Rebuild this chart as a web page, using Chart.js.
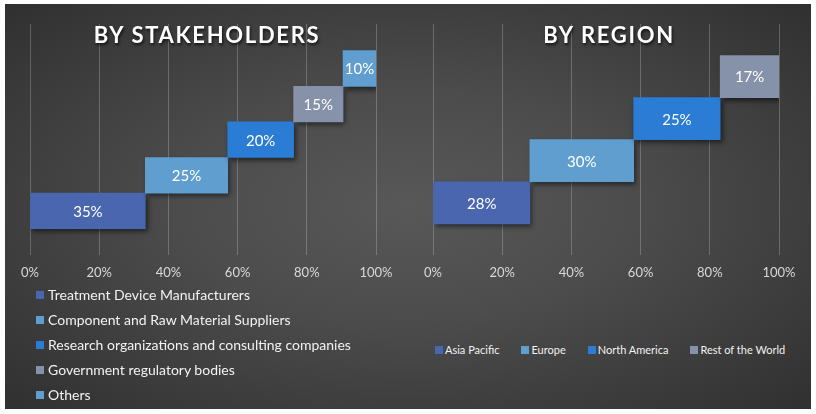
<!DOCTYPE html>
<html>
<head>
<meta charset="utf-8">
<script src="https://cdn.jsdelivr.net/npm/chart.js@4.4.1/dist/chart.umd.min.js"></script>
<style>
    html, body { margin: 0; padding: 0; background: #fff; }
    body { width: 816px; height: 414px; position: relative; overflow: hidden; font-family: Lato, "Noto Sans", sans-serif; }
    #panel {
        position: absolute; left: 5px; top: 4px; width: 806px; height: 405px;
        background: radial-gradient(ellipse farthest-corner at 50% 50%, #585858 0%, #4c4c4c 40%, #303030 100%);
    }
    .box { position: absolute; top: 0; width: 408px; height: 300px; }
    .title {
        position: absolute; top: 21px; width: 408px; text-align: center;
        color: #fff; font-weight: 700; font-size: 22px; letter-spacing: 1.7px;
        text-shadow: 1px 2px 3px rgba(0, 0, 0, 0.7);
    }
    .legend { position: absolute; color: #f2f2f2; }
    .legend .item { display: flex; align-items: center; white-space: nowrap; }
    .legend .sw { display: inline-block; width: 8px; height: 8px; margin-right: 4px; }
    #legendLeft { left: 36px; top: 282px; font-size: 14px; }
    #legendLeft .item { height: 25px; }
    #legendRight { left: 435px; top: 343px; font-size: 11px; display: flex; gap: 22px; }
    #legendRight .sw { margin-right: 2px; }
</style>
</head>
<body>
<div id="panel"></div>
<div class="box" style="left:0"><canvas id="stakeholderChart"></canvas></div>
<div class="box" style="left:408px"><canvas id="regionChart"></canvas></div>
<div class="title" style="left:3px">BY STAKEHOLDERS</div>
<div class="title" style="left:405px">BY REGION</div>
<div class="legend" id="legendLeft"></div>
<div class="legend" id="legendRight"></div>

<script>
// Ïù¥Ìï¥Í¥ÄÍ≥ÑÏûêÎ≥Ñ
const stakeholderLabels = [
    'Treatment Device Manufacturers',
    'Component and Raw Material Suppliers',
    'Research organizations and consulting companies',
    'Government regulatory bodies',
    'Others'
];
const stakeholderShares = [35, 25, 20, 15, 10];
const stakeholderColors = ['#4a66ae', '#5f9ecf', '#2b7cd4', '#8691aa', '#5f9ecf'];

// ÏßÄÏó≠Î≥Ñ
const regionLabels = ['Asia Pacific', 'Europe', 'North America', 'Rest of the World'];
const regionShares = [28, 30, 25, 17];
const regionColors = ['#4a66ae', '#5f9ecf', '#2b7cd4', '#8691aa'];

// x Ï∂ï ÎààÍ∏à (%)
const axisTicks = [0, 20, 40, 60, 80, 100];

// 100% ÎàÑÏ†Å Íµ¨Í∞ÑÏúºÎ°ú Î≥ÄÌôò
function floatingBars(shares) {
    const total = shares.reduce((a, b) => a + b, 0);
    let run = 0;
    return shares.map((v, i) => {
        const start = run / total * 100;
        run += v;
        return { x: [start, run / total * 100], y: i };
    });
}

// Í∑∏Î¶ºÏûê + ÎßâÎåÄ Ïïà ÎùºÎ≤®
const barExtras = {
    id: 'barExtras',
    beforeDatasetsDraw(chart) {
        const c = chart.ctx;
        c.save();
        c.shadowColor = 'rgba(0, 0, 0, 0.55)';
        c.shadowBlur = 5;
        c.shadowOffsetX = 2;
        c.shadowOffsetY = 3;
    },
    afterDatasetsDraw(chart, args, opts) {
        const c = chart.ctx;
        c.restore();
        c.save();
        c.fillStyle = '#ffffff';
        c.font = '15px Lato, "Noto Sans", sans-serif';
        c.textAlign = 'center';
        c.textBaseline = 'middle';
        chart.getDatasetMeta(0).data.forEach((bar, i) => {
            const p = bar.getCenterPoint();
            c.fillText(opts.values[i] + '%', p.x, p.y + 1);
        });
        c.restore();
    }
};

function makeChart(id, shares, colors, padLeft, padRight) {
    return new Chart(document.getElementById(id), {
        type: 'bar',
        data: {
            datasets: [{
                data: floatingBars(shares),
                backgroundColor: colors,
                borderWidth: 0,
                barPercentage: 1,
                categoryPercentage: 1
            }]
        },
        options: {
            indexAxis: 'y',
            responsive: true,
            maintainAspectRatio: false,
            animation: false,
            layout: {
                padding: { left: padLeft, right: padRight, top: 24, bottom: 9 }
            },
            plugins: {
                legend: { display: false },
                tooltip: { enabled: false },
                barExtras: { values: shares }
            },
            scales: {
                x: {
                    type: 'linear',
                    min: axisTicks[0],
                    max: axisTicks[axisTicks.length - 1],
                    afterBuildTicks: function(scale) {
                        scale.ticks = axisTicks.map(v => ({ value: v }));
                    },
                    grid: {
                        color: 'rgba(255, 255, 255, 0.22)',
                        drawTicks: false
                    },
                    border: { display: false },
                    ticks: {
                        color: '#d9d9d9',
                        padding: 10,
                        font: { family: 'Lato', size: 13 },
                        callback: function(value) {
                            return value + '%';
                        }
                    }
                },
                y: {
                    type: 'linear',
                    display: false,
                    offset: false,
                    grid: { offset: false },
                    min: -1.25,
                    max: shares.length - 1 + 1.25,
                    afterBuildTicks: function(scale) {
                        scale.ticks = shares.map((v, i) => ({ value: i }));
                    }
                }
            }
        },
        plugins: [barExtras]
    });
}

makeChart('stakeholderChart', stakeholderShares, stakeholderColors, 30, 32);
makeChart('regionChart', regionShares, regionColors, 25, 37);

// Î≤îÎ°Ä
function buildLegend(el, labels, colors) {
    labels.forEach((label, i) => {
        const item = document.createElement('div');
        item.className = 'item';
        const sw = document.createElement('span');
        sw.className = 'sw';
        sw.style.background = colors[i];
        item.appendChild(sw);
        item.appendChild(document.createTextNode(label));
        el.appendChild(item);
    });
}
buildLegend(document.getElementById('legendLeft'), stakeholderLabels, stakeholderColors);
buildLegend(document.getElementById('legendRight'), regionLabels, regionColors);
</script>
</body>
</html>
